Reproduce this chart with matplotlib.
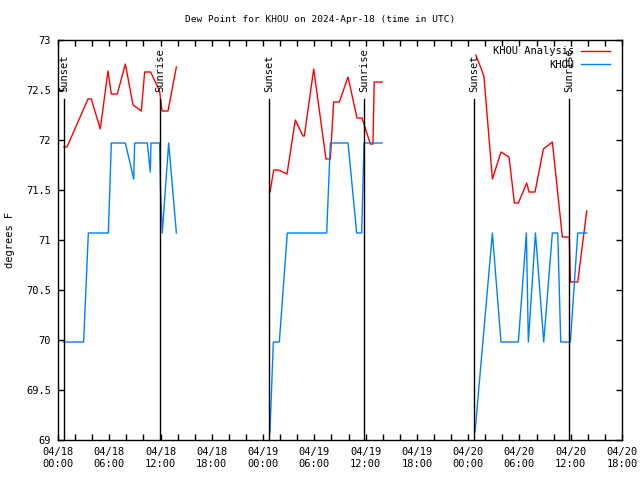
import matplotlib
matplotlib.use("Agg")
import matplotlib.pyplot as plt
import numpy as np

nan = np.nan

# hours since 2024-04-18 00:00 UTC
red_h = [0.70, 1.05, 3.51, 3.90, 4.95, 5.85, 6.24, 6.94, 7.88, 8.78, 9.75, 10.14, 10.84, 11.89, 12.17, 12.87, 13.85, nan,
         24.81, 25.24, 25.82, 26.80, 27.77, 28.67, 28.83, 29.92, 31.36, 31.87, 32.26, 32.92, 33.94, 34.99, 35.58, 36.55, 36.86, 37.00, 37.92, nan,
         48.88, 49.58, 49.85, 50.83, 51.84, 52.78, 53.41, 53.87, 54.85, 55.12, 55.82, 56.80, 57.85, 59.02, 59.84, 59.96, 60.82, 61.87]
red_v = [71.93, 71.93, 72.41, 72.41, 72.11, 72.69, 72.46, 72.46, 72.76, 72.35, 72.29, 72.68, 72.68, 72.49, 72.29, 72.29, 72.73, nan,
         71.48, 71.70, 71.70, 71.66, 72.20, 72.04, 72.04, 72.71, 71.81, 71.81, 72.38, 72.38, 72.63, 72.22, 72.22, 71.96, 71.96, 72.58, 72.58, nan,
         72.85, 72.70, 72.63, 71.61, 71.88, 71.83, 71.37, 71.37, 71.57, 71.48, 71.48, 71.91, 71.98, 71.03, 71.03, 70.58, 70.58, 71.29]

blue_h = [0.62, 3.0, 3.55, 5.89, 6.24, 7.88, 8.86, 8.97, 10.45, 10.80, 10.88, 11.89, 12.0, 12.2, 12.95, 13.85, nan,
          24.8, 25.2, 25.9, 26.83, 31.44, 31.87, 33.94, 34.95, 35.54, 35.81, 37.92, nan,
          48.8, 50.83, 51.84, 53.87, 54.81, 55.04, 55.87, 56.84, 57.85, 58.48, 58.83, 59.96, 60.82, 61.87]
blue_v = [69.98, 69.98, 71.07, 71.07, 71.97, 71.97, 71.61, 71.97, 71.97, 71.68, 71.97, 71.97, 71.5, 71.07, 71.97, 71.07, nan,
          69.07, 69.98, 69.98, 71.07, 71.07, 71.97, 71.97, 71.07, 71.07, 71.97, 71.97, nan,
          69.08, 71.07, 69.98, 69.98, 71.07, 69.98, 71.07, 69.98, 71.07, 71.07, 69.98, 69.98, 71.07, 71.07]

sun_h = [0.74, 11.97, 24.73, 35.85, 48.72, 59.84]
sun_txt = ["Sunset", "Sunrise", "Sunset", "Sunrise", "Sunset", "Sunrise"]

xtick_h = list(range(0, 67, 6))
xtick_lab = ["04/18\n00:00", "04/18\n06:00", "04/18\n12:00", "04/18\n18:00",
             "04/19\n00:00", "04/19\n06:00", "04/19\n12:00", "04/19\n18:00",
             "04/20\n00:00", "04/20\n06:00", "04/20\n12:00", "04/20\n18:00"]
ytick_v = [69, 69.5, 70, 70.5, 71, 71.5, 72, 72.5, 73]
ytick_lab = ["69", "69.5", "70", "70.5", "71", "71.5", "72", "72.5", "73"]

plt.rcParams['font.family'] = ['DejaVu Sans Mono']
plt.rcParams['font.size'] = 7

fig = plt.figure(figsize=(6.4, 4.8), dpi=100)
ax = fig.add_axes([58/640, 40/480, 564/640, 400/480])

ax.plot(red_h, red_v, color='#ff0000', lw=1, label='KHOU Analysis')
ax.plot(blue_h, blue_v, color='#0080ff', lw=1, label='KHOU')

# sunrise / sunset markers
for h, t in zip(sun_h, sun_txt):
    ax.plot([h, h], [69, 72.41], color='black', lw=1)
    ax.text(h, 72.48, t, rotation=90, ha='center', va='bottom', fontsize=7.5)

ax.set_xlim(0, 66)
ax.set_ylim(69, 73)
ax.set_xticks(xtick_h)
ax.set_xticklabels(xtick_lab)
ax.set_xticks(list(range(0, 67, 2)), minor=True)
ax.set_yticks(ytick_v)
ax.set_yticklabels(ytick_lab)
ax.tick_params(direction='in', top=True, right=True, length=4, width=1, labelsize=7.5, pad=5)
ax.tick_params(which='minor', direction='in', top=True, right=True, length=4, width=1)
for s in ax.spines.values():
    s.set_linewidth(1)

# legend drawn over the last sunrise label, like the original
ax.legend(loc='upper right', bbox_to_anchor=(0.99, 1.0), frameon=False, markerfirst=False, fontsize=7.5,
          handlelength=2.8, borderaxespad=0.2, labelspacing=0.35, handletextpad=0.6)

fig.text(0.5, 1 - 19/480, "Dew Point for KHOU on 2024-Apr-18 (time in UTC)", ha='center', va='center', fontsize=6.8)
fig.text(10/640, 0.5, "degrees F", rotation=90, ha='center', va='center', fontsize=7.5)

fig.savefig("out.png", dpi=100)
